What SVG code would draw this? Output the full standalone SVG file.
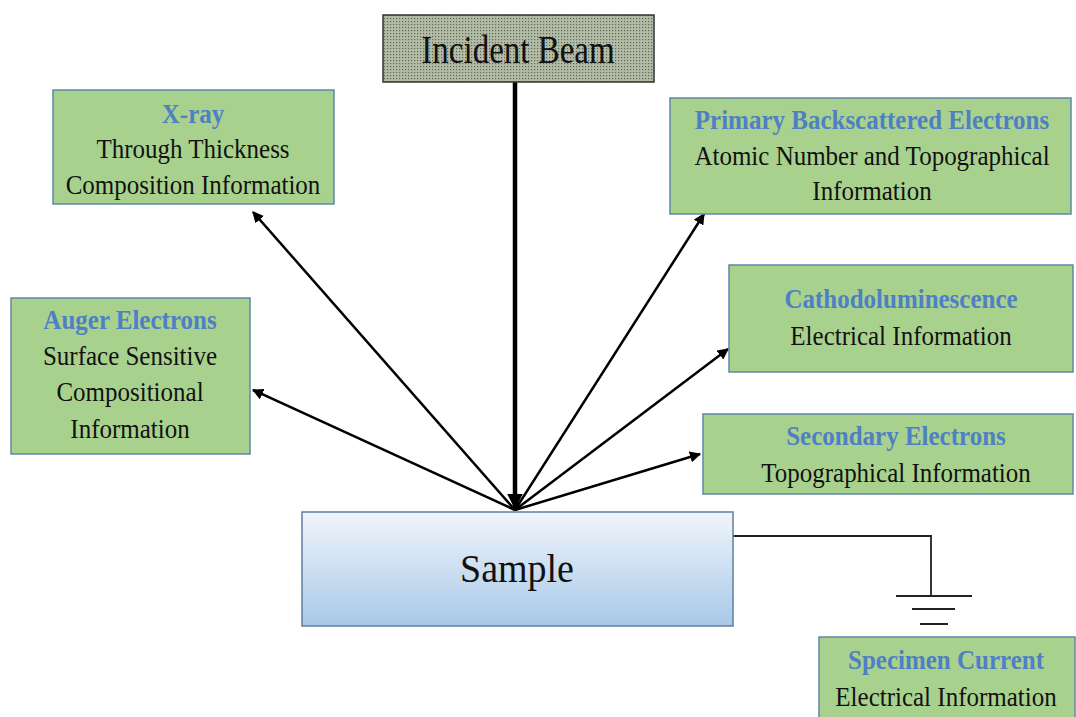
<svg xmlns="http://www.w3.org/2000/svg" width="1076" height="717" viewBox="0 0 1076 717">
<style>
.box{fill:#a9d18e;stroke:#5f88a8;stroke-width:1.5}
.t{font-family:'Liberation Serif','DejaVu Serif',serif;font-size:25px;fill:#111;text-anchor:middle}
.h{font-family:'Liberation Serif','DejaVu Serif',serif;font-size:25px;font-weight:bold;fill:#4f7fc4;text-anchor:middle}
.arr{stroke:#000;stroke-width:2.5;fill:none;marker-end:url(#ah)}
</style>
<defs>
<marker id="ah" viewBox="0 0 10 10" refX="9" refY="5" markerWidth="4.5" markerHeight="4.5" orient="auto" markerUnits="strokeWidth"><path d="M0,0 L10,5 L0,10 z" fill="#000"/></marker>
<marker id="ahb" viewBox="0 0 10 10" refX="9" refY="5" markerWidth="3.5" markerHeight="3.5" orient="auto" markerUnits="strokeWidth"><path d="M0,0 L10,5 L0,10 z" fill="#000"/></marker>
<pattern id="dots" width="3" height="3" patternUnits="userSpaceOnUse"><rect width="3" height="3" fill="#b3bca6"/><rect width="1.2" height="1.2" fill="#5e6656"/></pattern>
<linearGradient id="sg" x1="0" y1="0" x2="0" y2="1"><stop offset="0" stop-color="#f1f5fb"/><stop offset="1" stop-color="#a8c8e8"/></linearGradient>
</defs>
<rect width="1076" height="717" fill="#fff"/>
<g id="connectors">
<line x1="515" y1="82" x2="515" y2="508" stroke="#000" stroke-width="4.5" marker-end="url(#ahb)"/>
<line class="arr" x1="515" y1="510" x2="253" y2="212"/>
<line class="arr" x1="515" y1="510" x2="253" y2="390"/>
<line class="arr" x1="515" y1="510" x2="704" y2="214"/>
<line class="arr" x1="515" y1="510" x2="728" y2="349"/>
<line class="arr" x1="515" y1="510" x2="700" y2="454"/>
<polyline points="733,536 931,536 931,596" fill="none" stroke="#222" stroke-width="1.8"/>
<line x1="896" y1="596" x2="972" y2="596" stroke="#222" stroke-width="2"/>
<line x1="912" y1="609" x2="955" y2="609" stroke="#222" stroke-width="2"/>
<line x1="920" y1="624" x2="948" y2="624" stroke="#222" stroke-width="2"/>
</g>
<g id="incident">
<rect x="383" y="15" width="271" height="67" fill="url(#dots)" stroke="#333" stroke-width="1.5"/>
<text transform="translate(518,63) scale(1,1.24)" class="t" style="font-size:33px">Incident Beam</text>
</g>
<g id="xray">
<rect class="box" x="53" y="90" width="281" height="114"/>
<text transform="translate(193,123) scale(1,1.1)" class="h">X-ray</text>
<text transform="translate(193,158) scale(1,1.1)" class="t">Through Thickness</text>
<text transform="translate(193,194) scale(1,1.1)" class="t">Composition Information</text>
</g>
<g id="primary">
<rect class="box" x="670" y="98" width="401" height="116"/>
<text transform="translate(872,129) scale(1,1.1)" class="h">Primary Backscattered Electrons</text>
<text transform="translate(872,165) scale(1,1.1)" class="t">Atomic Number and Topographical</text>
<text transform="translate(872,200) scale(1,1.1)" class="t">Information</text>
</g>
<g id="auger">
<rect class="box" x="11" y="298" width="239" height="156"/>
<text transform="translate(130,329) scale(1,1.1)" class="h">Auger Electrons</text>
<text transform="translate(130,365) scale(1,1.1)" class="t">Surface Sensitive</text>
<text transform="translate(130,401) scale(1,1.1)" class="t">Compositional</text>
<text transform="translate(130,438) scale(1,1.1)" class="t">Information</text>
</g>
<g id="cathodo">
<rect class="box" x="729" y="265" width="344" height="107"/>
<text transform="translate(901,308) scale(1,1.1)" class="h">Cathodoluminescence</text>
<text transform="translate(901,345) scale(1,1.1)" class="t">Electrical Information</text>
</g>
<g id="secondary">
<rect class="box" x="703" y="414" width="370" height="80"/>
<text transform="translate(896,445) scale(1,1.1)" class="h">Secondary Electrons</text>
<text transform="translate(896,482) scale(1,1.1)" class="t">Topographical Information</text>
</g>
<g id="sample">
<rect x="302" y="512" width="431" height="114" fill="url(#sg)" stroke="#5f7f9f" stroke-width="1.5"/>
<text transform="translate(517,582) scale(1,1.05)" class="t" style="font-size:38px">Sample</text>
</g>
<g id="specimen">
<rect class="box" x="819" y="637" width="256" height="90"/>
<text transform="translate(946,669) scale(1,1.1)" class="h">Specimen Current</text>
<text transform="translate(946,706) scale(1,1.1)" class="t">Electrical Information</text>
</g>
</svg>
